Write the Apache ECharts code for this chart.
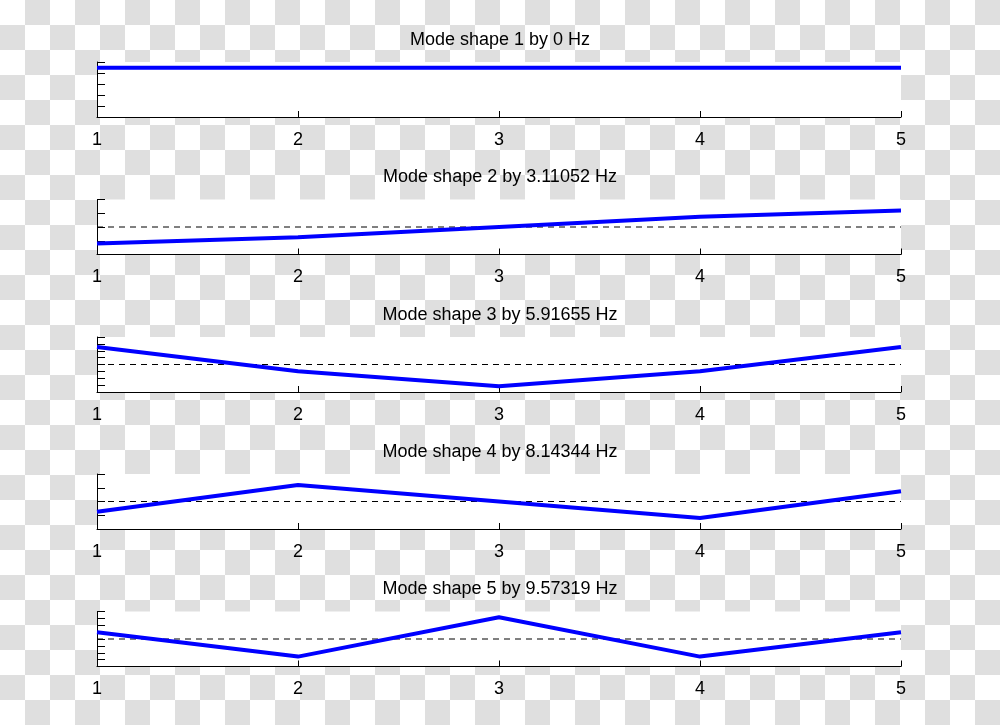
<!DOCTYPE html>
<html>
<head>
<meta charset="utf-8">
<script src="https://cdn.jsdelivr.net/npm/echarts@6/dist/echarts.min.js"></script>
<style>
html,body{margin:0;padding:0;}
body{width:1000px;height:725px;background-color:#fff;
background-image:conic-gradient(#dfdfdf 0 25%, #ffffff 0 50%, #dfdfdf 0 75%, #ffffff 0);
background-size:50px 50px;}
#c{width:1000px;height:725px;}
</style>
</head>
<body>
<div id="c"></div>
<script>
var nodes = [1, 2, 3, 4, 5];
var titles = ['Mode shape 1 by 0 Hz','Mode shape 2 by 3.11052 Hz','Mode shape 3 by 5.91655 Hz','Mode shape 4 by 8.14344 Hz','Mode shape 5 by 9.57319 Hz'];
var mode1 = [0.447, 0.447, 0.447, 0.447, 0.447];
var mode2 = [-0.601, -0.372, 0, 0.372, 0.601];
var mode3 = [0.512, -0.195, -0.632, -0.195, 0.512];
var mode4 = [-0.372, 0.601, 0, -0.601, 0.372];
var mode5 = [0.195, -0.512, 0.632, -0.512, 0.195];
var modes = [mode1, mode2, mode3, mode4, mode5];
var yMin = [0, -1, -0.8, -1, -0.8];
var yMax = [0.5, 1, 0.8, 1, 0.8];
var yStep = [0.1, 0.5, 0.2, 0.5, 0.2];
var showZero = [false, true, true, true, true];

var gridTops = [62, 199.5, 337, 474, 611.5];
var gridH = 55;
var font = '"Liberation Sans", Arial, Helvetica, sans-serif';

var option = {animation:false, backgroundColor:'transparent', title:[], grid:[], xAxis:[], yAxis:[], series:[]};
for (var i = 0; i < 5; i++) {
  option.title.push({text:titles[i], left:'center', top:gridTops[i]-31, padding:0,
    textStyle:{fontFamily:font, fontSize:18, fontWeight:'normal', color:'#000'}});
  option.grid.push({left:97, right:99, top:gridTops[i], height:gridH, show:true, backgroundColor:'#fff', borderWidth:0});
  option.xAxis.push({type:'value', gridIndex:i, min:1, max:5, interval:1,
    axisLine:{show:true, onZero:false, lineStyle:{color:'#000', width:1}},
    axisTick:{show:true, inside:true, length:6, lineStyle:{color:'#000'}},
    axisLabel:{show:true, margin:14, fontFamily:font, fontSize:18, color:'#000'},
    splitLine:{show:false}});
  option.yAxis.push({type:'value', gridIndex:i, min:yMin[i], max:yMax[i], interval:yStep[i],
    axisLine:{show:true, onZero:false, lineStyle:{color:'#000', width:1}},
    axisTick:{show:true, inside:true, length:8, lineStyle:{color:'#000'}},
    axisLabel:{show:false}, splitLine:{show:false}});
  if (showZero[i]) {
    option.series.push({type:'line', xAxisIndex:i, yAxisIndex:i, data:[[nodes[0],0],[nodes[nodes.length-1],0]],
      symbol:'none', silent:true, lineStyle:{color:'#000', width:1, type:[6,5]}});
  }
  option.series.push({type:'line', xAxisIndex:i, yAxisIndex:i,
    data:nodes.map(function(n, k){return [n, modes[i][k]];}),
    symbol:'none', lineStyle:{color:'#0000ff', width:4}});
}
var chart = echarts.init(document.getElementById('c'), null, {renderer:'canvas'});
chart.setOption(option);
</script>
</body>
</html>
